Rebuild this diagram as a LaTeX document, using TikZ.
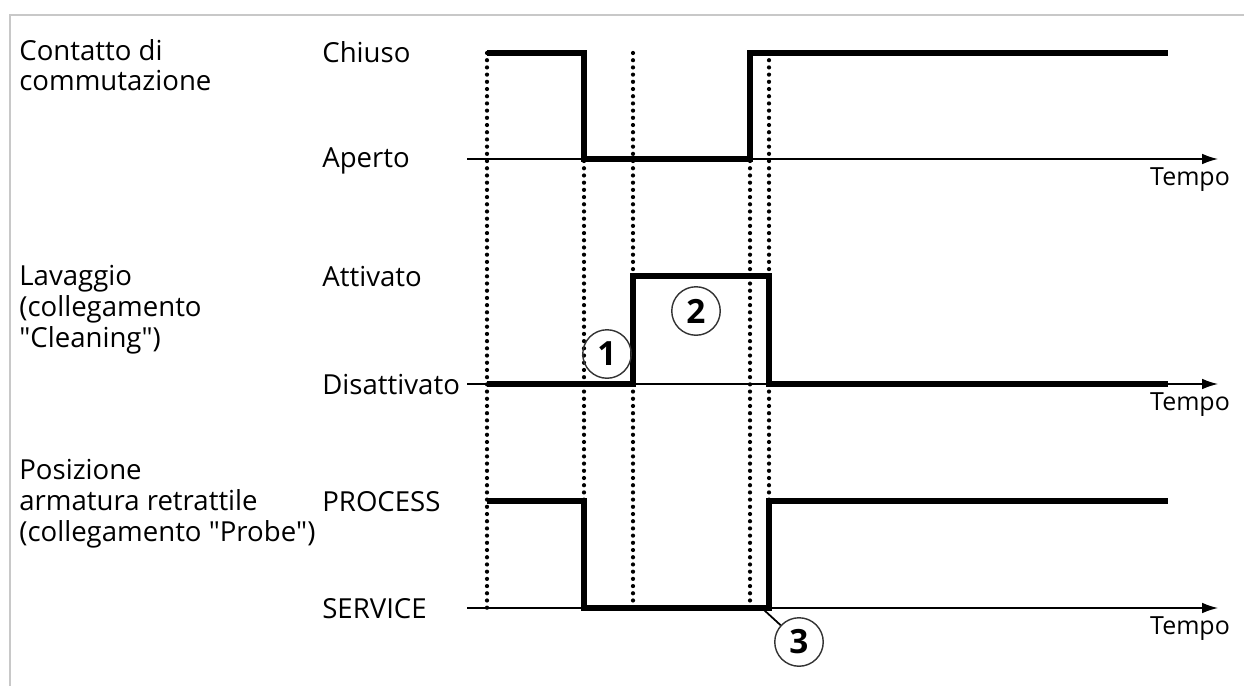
\documentclass[tikz,border=0pt]{standalone}
\usepackage{fontspec}
\setmainfont{Open Sans}
\usetikzlibrary{arrows.meta}
\definecolor{frameGrey}{HTML}{C8C8C8}
\definecolor{ringGrey}{HTML}{333333}

\begin{document}
\begin{tikzpicture}[x=0.02cm,y=-0.02cm,every node/.style={font=\fontsize{15.7}{17.6}\selectfont,inner sep=0pt}]
\tikzset{
  lvl/.style={anchor=base west},
  grp/.style={anchor=base west,align=left},
  tlab/.style={anchor=base,font=\fontsize{14.2}{16}\selectfont},
  sig/.style={line width=3.4pt,line join=miter},
  axis/.style={line width=0.8pt,-{Latex[length=9pt,width=6pt]}},
  guide/.style={line width=2.4pt,line cap=round,dash pattern=on 0pt off 4.1pt},
  num/.style={circle,draw=ringGrey,line width=0.8pt,minimum size=0.97cm,font=\fontsize{19}{21}\selectfont\bfseries}
}
\useasboundingbox (0,0) rectangle (1244,686);
\draw[frameGrey,line width=1.2pt] (10,686)--(10,15)--(1244,15);
% signal names (anchored on last line)
\node[grp] (g1) at (19,91) {Contatto di\\commutazione};
\node[grp] (g2) at (19,347) {Lavaggio\\(collegamento\\\textquotedbl Cleaning\textquotedbl)};
\node[grp] (g3) at (19,541) {Posizione\\armatura retrattile\\(collegamento \textquotedbl Probe\textquotedbl)};
% levels
\node[lvl] (chiuso) at (322,63) {Chiuso};
\node[lvl] (aperto) at (322,168) {Aperto};
\node[lvl] (attivo) at (322,286) {Attivato};
\node[lvl] (disatt) at (322,394) {Disattivato};
\node[lvl] (proc) at (322,511) {PROCESS};
\node[lvl] (serv) at (322,618) {SERVICE};
% time axes
\draw[axis] (467,159)--(1218,159);
\draw[axis] (467,384)--(1218,384);
\draw[axis] (467,608)--(1218,608);
\node[tlab] (t1) at (1190,185) {Tempo};
\node[tlab] (t2) at (1190,410) {Tempo};
\node[tlab] (t3) at (1190,634) {Tempo};
% guides
\foreach \x in {487,584,633,750,769}
  \draw[guide] (\x,53)--(\x,608);
% signals
\draw[sig] (487,53)--(584,53)--(584,159)--(750,159)--(750,53)--(1168,53);
\draw[sig] (487,384)--(633,384)--(633,276)--(769,276)--(769,384)--(1168,384);
\draw[sig] (487,501)--(584,501)--(584,608)--(769,608)--(769,501)--(1168,501);
% markers
\node[num] (n1) at (607,354) {1};
\node[num] (n2) at (696,311) {2};
\node[num] (n3) at (799,642) {3};
\coordinate (p3) at (764,610);
\draw[line width=1pt] (n3)--(p3);
\end{tikzpicture}
\end{document}
